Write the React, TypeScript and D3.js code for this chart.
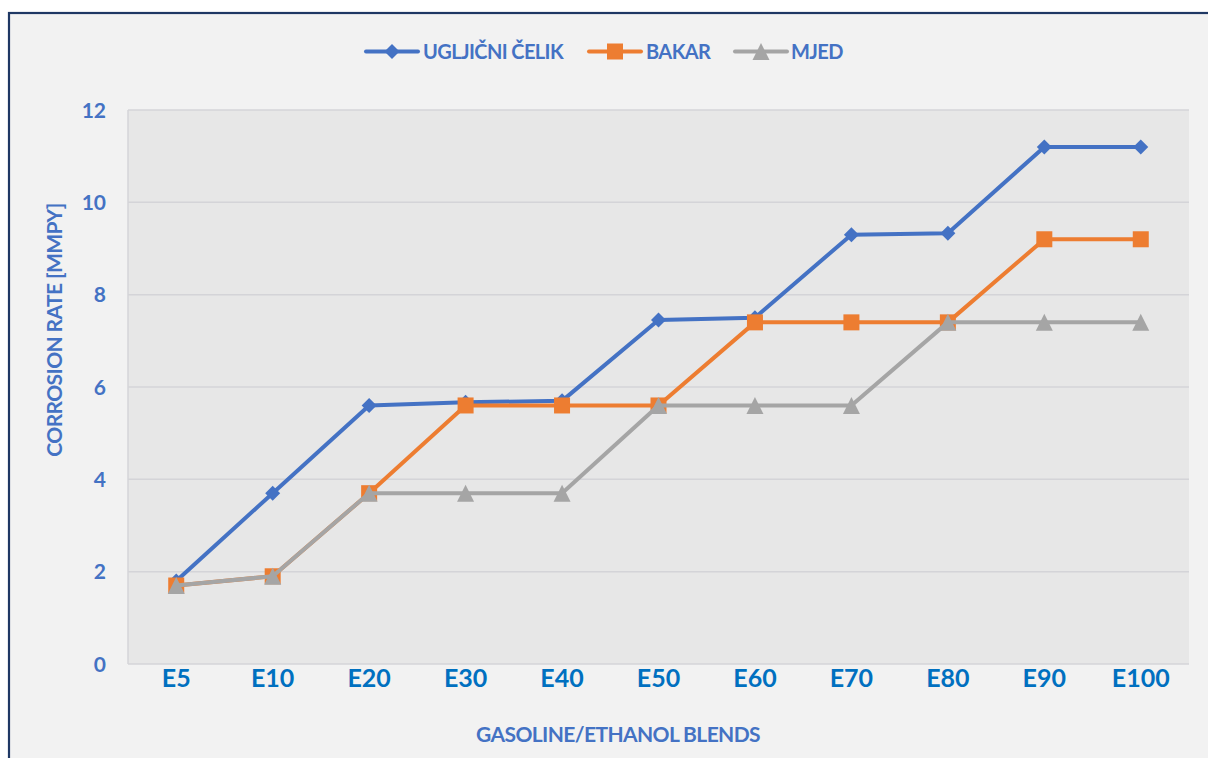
import React from "react";
import * as d3 from "d3";

const categories = ["E5", "E10", "E20", "E30", "E40", "E50", "E60", "E70", "E80", "E90", "E100"];
const celik = [1.8, 3.7, 5.6, 5.67, 5.7, 7.45, 7.5, 9.3, 9.33, 11.2, 11.2];
const bakar = [1.7, 1.9, 3.7, 5.6, 5.6, 5.6, 7.4, 7.4, 7.4, 9.2, 9.2];
const mjed = [1.7, 1.9, 3.7, 3.7, 3.7, 5.6, 5.6, 5.6, 7.4, 7.4, 7.4];
const yTicks = [0, 2, 4, 6, 8, 10, 12];
const seriesNames = ["UGLJIČNI ČELIK", "BAKAR", "MJED"];

const W = 1208;
const H = 758;
const FONT = "Lato, 'Open Sans', sans-serif";

type Series = { name: string; values: number[]; color: string; marker: "diamond" | "square" | "triangle" };

const series: Series[] = [
  { name: seriesNames[0], values: celik, color: "#4472C4", marker: "diamond" },
  { name: seriesNames[1], values: bakar, color: "#ED7D31", marker: "square" },
  { name: seriesNames[2], values: mjed, color: "#A5A5A5", marker: "triangle" },
];

function Marker({ type, x, y, color }: { type: string; x: number; y: number; color: string }) {
  if (type === "diamond") {
    const s = 7.5;
    return <path d={`M${x},${y - s}L${x + s},${y}L${x},${y + s}L${x - s},${y}Z`} fill={color} />;
  }
  if (type === "square") {
    const s = 8;
    return <rect x={x - s} y={y - s} width={2 * s} height={2 * s} fill={color} />;
  }
  const s = 8.5;
  return <path d={`M${x},${y - s}L${x + s},${y + s}L${x - s},${y + s}Z`} fill={color} />;
}

export default function App() {
  const left = 128, right = 1189, top = 110, bottom = 664;
  const x = d3.scaleBand<string>().domain(categories).range([left, right]);
  const y = d3.scaleLinear().domain([0, 12]).range([bottom, top]);
  const cx = (c: string) => (x(c) as number) + x.bandwidth() / 2;
  const line = d3
    .line<number>()
    .x((_, i) => cx(categories[i]))
    .y((d) => y(d));

  const legendPos = [
    { sx: 366, tx: 423 },
    { sx: 589, tx: 646 },
    { sx: 735, tx: 791 },
  ];

  return (
    <svg
      width={W}
      height={H}
      style={{ position: "absolute", left: 0, top: 0, display: "block" }}
      fontFamily={FONT}
    >
      <rect x={0} y={0} width={W} height={H} fill="#ffffff" />
      <rect x={9} y={13} width={W + 20} height={H + 20} fill="#f2f2f2" stroke="#1f3864" strokeWidth={2.2} />
      <rect x={left} y={top} width={right - left} height={bottom - top} fill="#e7e7e7" />
      {yTicks.map((t) => (
        <line key={t} x1={left} x2={right} y1={y(t)} y2={y(t)} stroke="#d4d4d8" strokeWidth={1.5} />
      ))}
      <line x1={left} x2={left} y1={top} y2={bottom} stroke="#d4d4d8" strokeWidth={1.5} />
      {yTicks.map((t) => (
        <text key={t} x={106} y={y(t)} dy="0.36em" textAnchor="end" fontSize={21} fontWeight={700} fill="#4472C4">
          {t}
        </text>
      ))}
      {categories.map((c) => (
        <text key={c} x={cx(c)} y={687} textAnchor="middle" fontSize={25} fontWeight={700} fill="#0070C0">
          {c}
        </text>
      ))}
      {series.map((s) => (
        <g key={s.name}>
          <path d={line(s.values) || ""} fill="none" stroke={s.color} strokeWidth={4} strokeLinejoin="round" />
          {s.values.map((v, i) => (
            <Marker key={i} type={s.marker} x={cx(categories[i])} y={y(v)} color={s.color} />
          ))}
        </g>
      ))}
      {series.map((s, i) => (
        <g key={s.name}>
          <line
            x1={legendPos[i].sx}
            x2={legendPos[i].sx + 52}
            y1={51.5}
            y2={51.5}
            stroke={s.color}
            strokeWidth={4}
            strokeLinecap="round"
          />
          <Marker type={s.marker} x={legendPos[i].sx + 26} y={51.5} color={s.color} />
          <text x={legendPos[i].tx} y={58.5} fontSize={20} fontWeight={700} fill="#4472C4" letterSpacing={-0.6}>
            {s.name}
          </text>
        </g>
      ))}
      <text x={618} y={742} textAnchor="middle" fontSize={21} fontWeight={700} fill="#4472C4" letterSpacing={-0.6}>
        GASOLINE/ETHANOL BLENDS
      </text>
      <text
        transform={`translate(62,330) rotate(-90)`}
        textAnchor="middle"
        fontSize={21}
        fontWeight={700}
        fill="#4472C4"
        letterSpacing={-0.6}
      >
        CORROSION RATE [MMPY]
      </text>
    </svg>
  );
}
